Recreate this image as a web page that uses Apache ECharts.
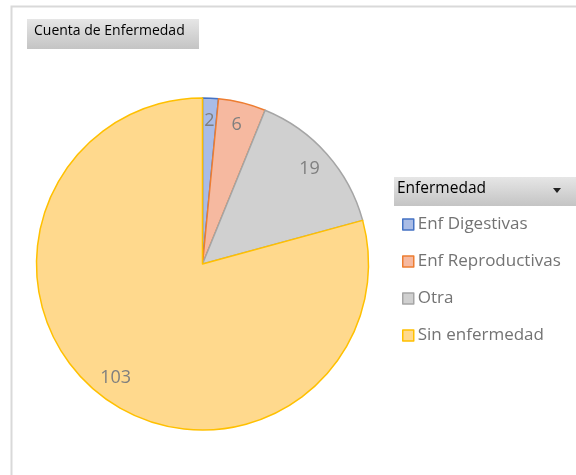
<!doctype html>
<html>
	<head>
		<meta charset="utf-8">
		<title>Cuenta de Enfermedad</title>
		<script src="https://cdn.jsdelivr.net/npm/echarts@6/dist/echarts.min.js"></script>
		<style>
			html, body { margin: 0; padding: 0; background: #fff; }
			#chart { width: 576px; height: 475px; }
		</style>
	</head>
	<body>
		<div id="chart"></div>
		<script type="text/javascript">
			// datos de la tabla dinamica
			var categorias = ['Enf Digestivas', 'Enf Reproductivas', 'Otra', 'Sin enfermedad'];
			var cuentas = [2, 6, 19, 103];
			var rellenos = ['#A9BCE6', '#F6B9A0', '#D0D0D0', '#FFD98D'];
			var bordes = ['#4472C4', '#ED7D31', '#A5A5A5', '#FFC000'];

			var fuente = '"Open Sans", "Noto Sans", sans-serif';

			function datos(conLabel) {
				var d = [];
				for (var i = 0; i < categorias.length; i++) {
					d.push({
						name: categorias[i],
						value: cuentas[i],
						itemStyle: {
							color: conLabel ? 'rgba(0,0,0,0)' : rellenos[i],
							borderColor: conLabel ? 'rgba(0,0,0,0)' : bordes[i],
							borderWidth: conLabel ? 0 : 1.5
						}
					});
				}
				return d;
			}

			var legendData = categorias.map(function(c, i) {
				return {
					name: c,
					itemStyle: { color: rellenos[i], borderColor: bordes[i], borderWidth: 1.5 }
				};
			});

			var chart = echarts.init(document.getElementById('chart'));
			var option = {
				animation: false,
				graphic: [
					// marco del grafico
					{ type: 'rect', shape: { x: 11.5, y: 6.5, width: 600, height: 500 }, style: { fill: 'none', stroke: '#D9D9D9', lineWidth: 2 }, z: -10 },
					// boton del campo de valores
					{ type: 'rect', shape: { x: 27, y: 19, width: 172, height: 30 },
						style: { fill: new echarts.graphic.LinearGradient(0, 0, 0, 1, [{ offset: 0, color: '#E6E6E6' }, { offset: 1, color: '#C4C4C4' }]) } },
					{ type: 'text', left: 34, top: 24, style: { text: 'Cuenta de Enfermedad', fill: '#000', font: '14px ' + fuente } },
					// boton del campo de leyenda
					{ type: 'rect', shape: { x: 394, y: 177, width: 190, height: 29 },
						style: { fill: new echarts.graphic.LinearGradient(0, 0, 0, 1, [{ offset: 0, color: '#E6E6E6' }, { offset: 1, color: '#C4C4C4' }]) } },
					{ type: 'text', left: 397, top: 181, style: { text: 'Enfermedad', fill: '#000', font: '15.5px ' + fuente } },
					{ type: 'polygon', shape: { points: [[553, 188], [561, 188], [557, 193]] }, style: { fill: '#222' } }
				],
				legend: {
					orient: 'vertical',
					left: 402,
					top: 216,
					padding: 0,
					itemWidth: 11,
					itemHeight: 11,
					itemGap: 20,
					icon: 'rect',
					selectedMode: false,
					data: legendData,
					textStyle: { color: '#737373', fontSize: 17, fontFamily: fuente, padding: [0, 0, 0, -1] }
				},
				series: [
					{
						type: 'pie',
						center: [202.5, 264],
						radius: [0, 166],
						startAngle: 90,
						clockwise: true,
						label: { show: false },
						labelLine: { show: false },
						emphasis: { disabled: true },
						data: datos(false)
					},
					{
						// serie invisible solo para colocar las etiquetas cerca del borde
						type: 'pie',
						center: [202.5, 264],
						radius: [114, 166],
						startAngle: 90,
						clockwise: true,
						silent: true,
						label: { show: true, position: 'inside', color: '#7F7F7F', fontSize: 18, fontFamily: fuente, formatter: '{c}' },
						labelLine: { show: false },
						emphasis: { disabled: true },
						data: datos(true)
					}
				]
			};
			chart.setOption(option);
		</script>
	</body>
</html>
